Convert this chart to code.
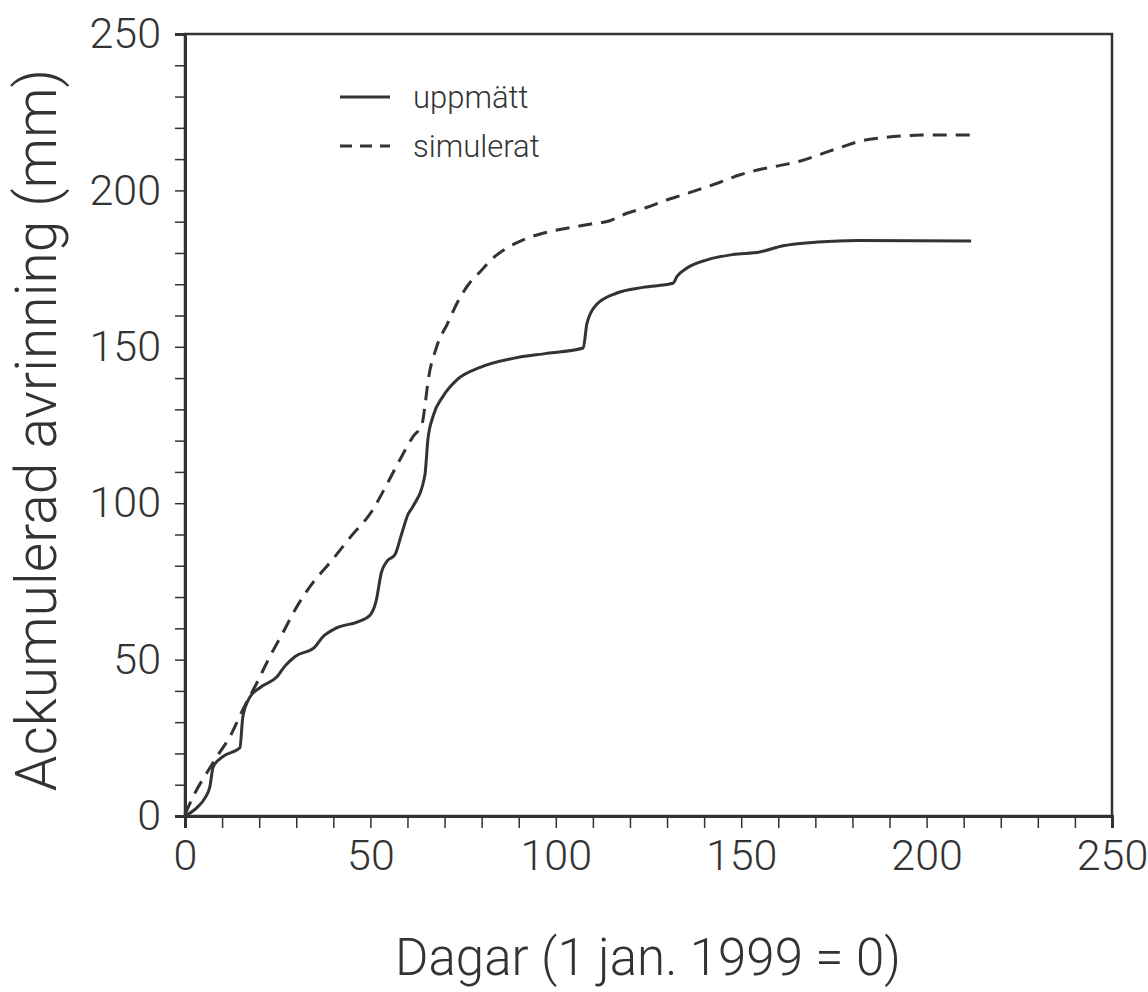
<!DOCTYPE html>
<html>
<head>
<meta charset="utf-8">
<script src="https://cdn.jsdelivr.net/npm/d3@7"></script>
<style>
  body { margin: 0; background: #fff; }
  text { font-family: Roboto, "Liberation Sans", sans-serif; font-weight: 300; fill: #333; }
</style>
</head>
<body>
<div id="chart"></div>
<script>
// uppmätt (measured)
var uppDays = [0, 3.5, 5.4, 6.7, 7.6, 10.2, 14.8, 15.6, 17.5, 20.2, 24.8, 27, 29.7, 35, 37.2, 41, 46.4, 49.9,
  51.5, 53, 54.5, 56.6, 58.5, 60.1, 61.5, 64.7, 65.5, 66.9, 69.6, 73.4, 79.6, 88.5, 97.6, 107.4, 108.4,
  111, 116.5, 123.5, 131.6, 132.7, 135.4, 140.8, 147.8, 155, 161.3, 170.7, 181.5, 212];
var uppMm = [0, 3, 5.8, 9.3, 15.7, 19, 21.8, 31.7, 38, 41, 44.5, 48, 51, 54, 57.3, 60.2, 62, 64.2,
  68.5, 78, 81.5, 83.5, 90.5, 96.3, 99, 109, 120.3, 127.8, 134.2, 139.5, 143.4, 146.3, 147.9, 149.6, 157.5,
  163.5, 167.2, 169, 170.3, 172.5, 175.2, 177.8, 179.5, 180.3, 182.3, 183.5, 184, 183.8];

// simulerat
var simDays = [0, 2.7, 5.9, 8.6, 12.1, 15.6, 19.4, 22.9, 26.4, 30.2, 34.5, 39.1, 44.5, 50.7, 53.4, 58,
  61.5, 63.9, 64.7, 65.5, 67.9, 70.7, 73.6, 76.5, 79.6, 83, 86.3, 91.2, 96.5, 103, 109.2, 114.6, 119.2,
  124.6, 128.9, 134.3, 138.9, 144.3, 149.7, 155, 160.6, 166, 171.5, 176.9, 182.3, 187.7, 193.4, 198.8, 212];
var simMm = [0.5, 7.4, 13.8, 19, 25.3, 34, 42.6, 51, 58.6, 67, 74.6, 81, 89, 98, 103.7, 114,
  121.3, 125.2, 131, 138.6, 150.1, 157.2, 164.5, 170, 174, 178.3, 181.2, 184.2, 186.3, 187.9, 189.2, 190.3, 192.7,
  194.6, 196.5, 198.6, 200.4, 202.6, 205, 206.7, 208, 209.4, 211.6, 213.8, 215.8, 216.8, 217.4, 217.7, 217.7];

var xTicks = [0, 50, 100, 150, 200, 250];
var yTicks = [0, 50, 100, 150, 200, 250];
var seriesNames = ["uppmätt", "simulerat"];

var width = 1148;
var height = 992;
var margin = { top: 34, right: 36, bottom: 176, left: 185 };
var ink = "#333";

var svg = d3
  .select("#chart")
  .append("svg")
  .attr("width", width)
  .attr("height", height);

var x = d3
  .scaleLinear()
  .domain([0, 250])
  .range([margin.left, width - margin.right]);

var y = d3
  .scaleLinear()
  .domain([0, 250])
  .range([height - margin.bottom, margin.top]);

// frame
svg
  .append("rect")
  .attr("x", x(0))
  .attr("y", y(250))
  .attr("width", x(250) - x(0))
  .attr("height", y(0) - y(250))
  .attr("fill", "none")
  .attr("stroke", ink)
  .attr("stroke-width", 2.5);

var xAxis = svg
  .append("g")
  .attr("transform", "translate(0," + y(0) + ")")
  .call(
    d3
      .axisBottom(x)
      .tickValues(d3.range(0, 251, 10))
      .tickSize(12)
      .tickPadding(11)
      .tickFormat(d => (xTicks.indexOf(d) >= 0 ? d : ""))
  );

var yAxis = svg
  .append("g")
  .attr("transform", "translate(" + x(0) + ",0)")
  .call(
    d3
      .axisLeft(y)
      .tickValues(d3.range(0, 251, 10))
      .tickSize(10)
      .tickPadding(14)
      .tickFormat(d => (yTicks.indexOf(d) >= 0 ? d : ""))
  );

[xAxis, yAxis].forEach(g => {
  g.select(".domain").attr("stroke", ink).attr("stroke-width", 3);
  g.selectAll(".tick line").attr("stroke", ink).attr("stroke-width", 1.5);
  g.selectAll(".tick text")
    .attr("fill", ink)
    .style("font-family", "Roboto, 'Liberation Sans', sans-serif")
    .style("font-weight", 300)
    .style("font-size", "43px");
});

// axis titles
svg
  .append("text")
  .attr("x", 648)
  .attr("y", 975)
  .attr("text-anchor", "middle")
  .style("font-size", "51px")
  .text("Dagar (1 jan. 1999 = 0)");

svg
  .append("text")
  .attr("transform", "translate(56,430) rotate(-90)")
  .attr("text-anchor", "middle")
  .style("font-size", "57px")
  .text("Ackumulerad avrinning (mm)");

var line = d3
  .line()
  .x(d => x(d[0]))
  .y(d => y(d[1]))
  .curve(d3.curveMonotoneX);

var upp = d3.zip(uppDays, uppMm);
var sim = d3.zip(simDays, simMm);

svg
  .append("path")
  .datum(sim)
  .attr("d", line)
  .attr("fill", "none")
  .attr("stroke", ink)
  .attr("stroke-width", 3)
  .attr("stroke-dasharray", "14,9");

svg
  .append("path")
  .datum(upp)
  .attr("d", line)
  .attr("fill", "none")
  .attr("stroke", ink)
  .attr("stroke-width", 3);

// legend
var legend = svg
  .append("g")
  .attr("transform", "translate(340,97)");

seriesNames.forEach((name, i) => {
  var row = legend.append("g").attr("transform", "translate(0," + i * 49 + ")");
  row
    .append("line")
    .attr("x1", 0)
    .attr("x2", 50)
    .attr("stroke", ink)
    .attr("stroke-width", 3)
    .attr("stroke-dasharray", i === 0 ? null : "12,8");
  row
    .append("text")
    .attr("x", 73)
    .attr("dy", "0.35em")
    .style("font-size", "31px")
    .text(name);
});
</script>
</body>
</html>
